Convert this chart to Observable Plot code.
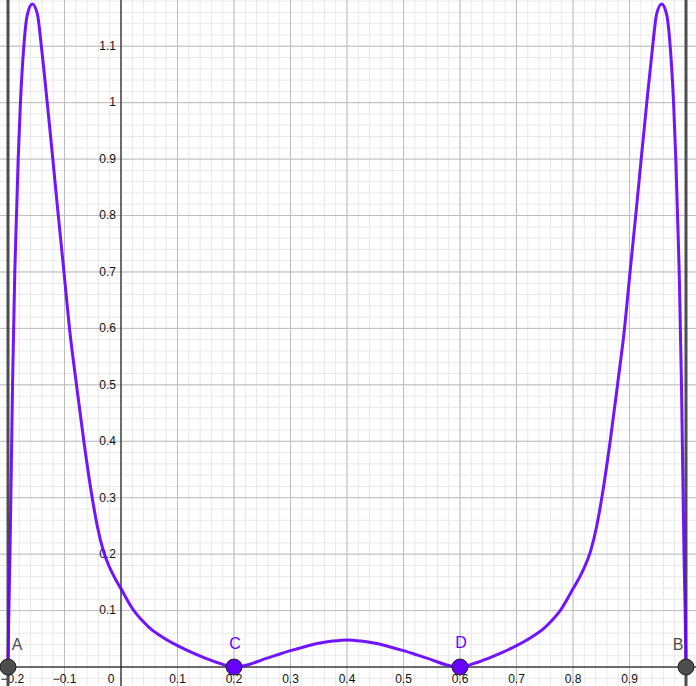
<!DOCTYPE html>
<html>
<head>
<meta charset="utf-8">
<script src="https://cdn.jsdelivr.net/npm/d3@7"></script>
<script src="https://cdn.jsdelivr.net/npm/@observablehq/plot@0.6"></script>
<style>
  html, body { margin: 0; padding: 0; background: #fff; }
  #chart svg { display: block; }
</style>
</head>
<body>
<div id="chart"></div>
<script>
// Curve samples
const curveX = [-0.2, -0.1985, -0.1965, -0.195, -0.1935, -0.192, -0.19, -0.188, -0.185, -0.182, -0.178, -0.172, -0.166, -0.157, -0.148, -0.141, -0.1306, -0.1207, -0.111, -0.101, -0.0912, -0.0788, -0.0658, -0.051, -0.042, -0.031, -0.02, -0.01, 0, 0.0227, 0.035, 0.05, 0.075, 0.1, 0.125, 0.15, 0.175, 0.2, 0.225, 0.25, 0.275, 0.3, 0.325, 0.35, 0.375, 0.4,
  0.425, 0.45, 0.475, 0.5, 0.525, 0.55, 0.575, 0.6, 0.625, 0.65, 0.675, 0.7, 0.725, 0.75, 0.765, 0.7773, 0.8, 0.81, 0.82, 0.831, 0.842, 0.851, 0.8658, 0.8788, 0.8912, 0.901, 0.911, 0.9207, 0.9306, 0.941, 0.948, 0.957, 0.966, 0.972, 0.978, 0.982, 0.985, 0.988, 0.99, 0.992, 0.9935, 0.995, 0.9965, 0.9985, 1.0];
const curveY = [0, 0.1, 0.2, 0.3, 0.4, 0.5, 0.6, 0.7, 0.8, 0.9, 1.0, 1.1, 1.155, 1.175, 1.157, 1.1, 1.0, 0.9, 0.8, 0.7, 0.6, 0.5, 0.4, 0.3, 0.25, 0.205, 0.176, 0.156, 0.1386, 0.1, 0.085, 0.07, 0.052, 0.038, 0.026, 0.0155, 0.0065, 0, 0.004, 0.0128, 0.021, 0.029, 0.036, 0.042, 0.046, 0.048,
  0.046, 0.042, 0.036, 0.029, 0.021, 0.0128, 0.004, 0, 0.0065, 0.0155, 0.026, 0.038, 0.052, 0.07, 0.085, 0.1, 0.1386, 0.156, 0.176, 0.205, 0.25, 0.3, 0.4, 0.5, 0.6, 0.7, 0.8, 0.9, 1.0, 1.1, 1.157, 1.175, 1.155, 1.1, 1.0, 0.9, 0.8, 0.7, 0.6, 0.5, 0.4, 0.3, 0.2, 0.1, 0];

// Named points
const pointNames = ["A", "B", "C", "D"];
const pointX = [-0.2, 1.0, 0.2, 0.6];
const pointY = [0, 0, 0, 0];

// Vertical lines
const vLines = [-0.2, 1.0];

// Tick labels
const xTickValues = [-0.1, 0.1, 0.2, 0.3, 0.4, 0.5, 0.6, 0.7, 0.8, 0.9];
const xTickLabels = ["−0.1", "0.1", "0.2", "0.3", "0.4", "0.5", "0.6", "0.7", "0.8", "0.9"];
const xEdgeLabel = ["−0.2"];
const xEdgeValue = [-0.2];
const yTickValues = [0.1, 0.2, 0.3, 0.4, 0.5, 0.6, 0.7, 0.8, 0.9, 1, 1.1];
const yTickLabels = ["0.1", "0.2", "0.3", "0.4", "0.5", "0.6", "0.7", "0.8", "0.9", "1", "1.1"];

const curve = curveX.map((x, i) => ({x, y: curveY[i]}));
const pts = pointNames.map((n, i) => ({name: n, x: pointX[i], y: pointY[i]}));
const xTicks = xTickValues.map((v, i) => ({v, label: xTickLabels[i]}));
const xEdge = xEdgeValue.map((v, i) => ({v, label: xEdgeLabel[i]}));
const yTicks = yTickValues.map((v, i) => ({v, label: yTickLabels[i]}));

const xDomain = [-0.2133, 1.0186];
const yDomain = [-0.0345, 1.181];
const minorX = d3.range(-0.22, 1.04, 0.02).map(v => +v.toFixed(2));
const minorY = d3.range(-0.04, 1.2, 0.02).map(v => +v.toFixed(2));
const majorX = d3.range(-0.2, 1.05, 0.1).map(v => +v.toFixed(1));
const majorY = d3.range(0, 1.2, 0.1).map(v => +v.toFixed(1));

const purple = "#6600ff";
const gray = "#4d4d4d";
const font = "'Liberation Sans', Arial, Helvetica, sans-serif";

const chart = Plot.plot({
  width: 696,
  height: 686,
  margin: 0,
  style: {background: "#fff", fontFamily: font},
  x: {domain: xDomain, axis: null},
  y: {domain: yDomain, axis: null},
  marks: [
    Plot.ruleX(minorX, {stroke: "#e8e8e8", strokeWidth: 1}),
    Plot.ruleY(minorY, {stroke: "#e8e8e8", strokeWidth: 1}),
    Plot.ruleX(majorX, {stroke: "#bdbdbd", strokeWidth: 1}),
    Plot.ruleY(majorY, {stroke: "#bdbdbd", strokeWidth: 1}),
    Plot.ruleX([0], {stroke: "#000", strokeWidth: 1}),
    Plot.ruleY([0], {stroke: "#000", strokeWidth: 1}),
    Plot.text(yTicks, {x: 0, y: "v", text: "label", textAnchor: "end", dx: -5, fontSize: 12, fill: "#111"}),
    Plot.text(xTicks, {x: "v", y: 0, text: "label", dy: 12, fontSize: 12, fill: "#111"}),
    Plot.text(xEdge, {x: "v", y: 0, text: "label", textAnchor: "start", dx: -7.5, dy: 12, fontSize: 12, fill: "#111"}),
    Plot.text(["0"], {x: 0, y: 0, text: d => d, dx: -10, dy: 12, fontSize: 12, fill: "#111"}),
    Plot.ruleX(vLines, {stroke: gray, strokeWidth: 3}),
    Plot.line(curve, {x: "x", y: "y", stroke: purple, strokeWidth: 3, curve: "monotone-x", strokeOpacity: 0.92}),
    Plot.dot(pts, {x: "x", y: "y", r: 8, fill: d => (d.name === "A" || d.name === "B") ? gray : purple, stroke: "#222", strokeWidth: 1}),
    Plot.text(pts.filter(d => d.name === "A"), {x: "x", y: "y", text: "name", dx: 9, dy: -22, fontSize: 16, fill: gray}),
    Plot.text(pts.filter(d => d.name === "B"), {x: "x", y: "y", text: "name", dx: -8, dy: -22, fontSize: 16, fill: gray}),
    Plot.text(pts.filter(d => d.name === "C"), {x: "x", y: "y", text: "name", dx: 1, dy: -23, fontSize: 16, fill: purple}),
    Plot.text(pts.filter(d => d.name === "D"), {x: "x", y: "y", text: "name", dx: 1, dy: -24.5, fontSize: 16, fill: purple})
  ]
});
document.getElementById("chart").appendChild(chart);
</script>
</body>
</html>
